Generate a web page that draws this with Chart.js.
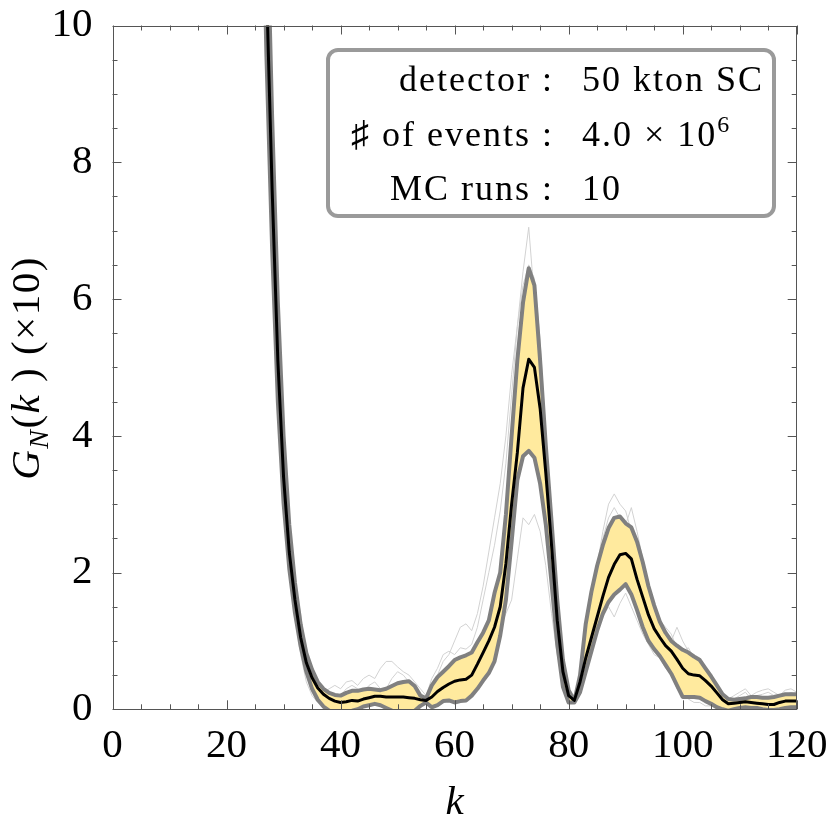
<!DOCTYPE html>
<html>
<head>
<meta charset="utf-8">
<script src="https://cdn.jsdelivr.net/npm/chart.js@4.4.0/dist/chart.umd.min.js"></script>
<style>
  html, body { margin: 0; padding: 0; background: #fff; }
  #wrap { position: relative; width: 830px; height: 824px; overflow: hidden; }
  #graph { position: absolute; left: 0; top: 0; }
  .ytitle {
    position: absolute; left: -125px; top: 345px; width: 300px; height: 46px;
    line-height: 46px; text-align: center; transform: rotate(-90deg);
    font-family: "Liberation Serif", serif; font-size: 41px; color: #000; white-space: nowrap;
    letter-spacing: 1.5px;
  }
  .ytitle .sub { font-size: 28px; position: relative; top: 9px; }
  .infobox {
    position: absolute; left: 326px; top: 48px; width: 450px; height: 170px;
    box-sizing: border-box; border: 4px solid #9a9a9a; border-radius: 12px; background: #fff;
    font-family: "Liberation Serif", serif; font-size: 36px; color: #000;
  }
  .infobox .row { position: absolute; left: 0; width: 100%; height: 54px; line-height: 54px; white-space: nowrap; }
  .infobox .lhs { position: absolute; right: 218px; letter-spacing: 2px; }
  .infobox .rhs { position: absolute; left: 252px; letter-spacing: 2px; }
  .infobox sup { font-size: 24px; position: relative; top: -14px; vertical-align: baseline; }
</style>
</head>
<body>
<div id="wrap">
  <canvas id="graph" width="830" height="824"></canvas>
  <div class="ytitle"><i>G</i><span class="sub"><i>N</i></span>(<i>k</i> ) (×10)</div>
  <div class="infobox">
    <div class="row" style="top:0px"><span class="lhs">detector :</span><span class="rhs">50 kton SC</span></div>
    <div class="row" style="top:55px"><span class="lhs">♯ of events :</span><span class="rhs">4.0 × 10<sup>6</sup></span></div>
    <div class="row" style="top:109px"><span class="lhs">MC runs :</span><span class="rhs">10</span></div>
  </div>
</div>
<script>
// k = 26 ... 120
const kValues = [
  26, 27, 28, 29, 30, 31, 32, 33, 34, 35,
  36, 37, 38, 39, 40, 41, 42, 43, 44, 45,
  46, 47, 48, 49, 50, 51, 52, 53, 54, 55,
  56, 57, 58, 59, 60, 61, 62, 63, 64, 65,
  66, 67, 68, 69, 70, 71, 72, 73, 74, 75,
  76, 77, 78, 79, 80, 81, 82, 83, 84, 85,
  86, 87, 88, 89, 90, 91, 92, 93, 94, 95,
  96, 97, 98, 99, 100, 101, 102, 103, 104, 105,
  106, 107, 108, 109, 110, 111, 112, 113, 114, 115,
  116, 117, 118, 119, 120
];

// average over the MC runs
const meanG = [
  14.5, 10.6, 7.6, 5.1, 3.4, 2.3, 1.6, 1.05, 0.68, 0.46,
  0.31, 0.22, 0.16, 0.12, 0.1, 0.11, 0.13, 0.12, 0.15, 0.17,
  0.19, 0.19, 0.18, 0.18, 0.18, 0.18, 0.17, 0.16, 0.14, 0.13,
  0.18, 0.26, 0.32, 0.37, 0.41, 0.43, 0.44, 0.5, 0.66, 0.83,
  1.0, 1.2, 1.5, 2.13, 3.0, 3.75, 4.7, 5.12, 5.0, 4.4,
  3.45, 2.4, 1.3, 0.55, 0.2, 0.13, 0.4, 0.75, 1.05, 1.35,
  1.65, 1.93, 2.12, 2.26, 2.28, 2.2, 1.9, 1.64, 1.38, 1.18,
  1.05, 0.93, 0.85, 0.73, 0.6, 0.52, 0.5, 0.49, 0.42, 0.34,
  0.24, 0.14, 0.08, 0.09, 0.1, 0.11, 0.1, 0.09, 0.08, 0.07,
  0.07, 0.1, 0.12, 0.12, 0.12
];

// mean + 1 sigma
const upperG = [
  16.0, 12.0, 8.65, 5.95, 4.0, 2.7, 1.85, 1.24, 0.82, 0.58,
  0.4, 0.3, 0.24, 0.21, 0.2, 0.24, 0.27, 0.27, 0.29, 0.3,
  0.29, 0.28, 0.3, 0.34, 0.38, 0.4, 0.41, 0.34, 0.2, 0.16,
  0.35, 0.47, 0.55, 0.63, 0.72, 0.76, 0.79, 0.83, 0.98, 1.12,
  1.3, 1.7, 2.0, 2.85, 4.0, 5.1, 5.95, 6.45, 6.2, 5.1,
  3.85, 2.75, 1.6, 0.72, 0.28, 0.12, 0.5, 1.25, 1.72, 2.1,
  2.4, 2.65, 2.8, 2.82, 2.72, 2.66, 2.45, 2.15, 1.8, 1.52,
  1.28, 1.12, 1.0, 0.93, 0.87, 0.83, 0.77, 0.72, 0.6, 0.48,
  0.35, 0.22, 0.15, 0.14, 0.15, 0.16, 0.18, 0.18, 0.17, 0.17,
  0.18, 0.2, 0.22, 0.22, 0.22
];

// mean - 1 sigma
const lowerG = [
  13.3, 9.55, 6.73, 4.5, 3.02, 2.06, 1.41, 0.92, 0.55, 0.3,
  0.14, 0.04, -0.02, -0.05, -0.06, -0.03, -0.02, 0.0, 0.04, 0.06,
  0.08, 0.06, 0.02, -0.02, -0.03, -0.04, -0.05, -0.02, 0.05, 0.1,
  0.03, 0.06, 0.12, 0.13, 0.1, 0.12, 0.13, 0.2, 0.3, 0.42,
  0.53, 0.7, 1.08, 1.6, 2.45, 3.35, 3.7, 3.78, 3.68, 3.3,
  2.7, 1.85, 0.95, 0.33, 0.1, 0.1, 0.25, 0.55, 0.85, 1.15,
  1.4, 1.57, 1.68, 1.75, 1.83, 1.68, 1.45, 1.2, 1.0, 0.88,
  0.78, 0.65, 0.52, 0.35, 0.18, 0.18, 0.18, 0.17, 0.12, 0.08,
  0.03, 0.0, -0.02, 0.0, 0.02, 0.03, 0.02, 0.02, 0.0, -0.01,
  -0.01, 0.0, 0.02, 0.03, 0.03
];

// a few of the single MC runs (thin grey)
const runA = [
  15, 10.9, 7.8, 5.2, 3.5, 2.3, 1.7, 1.3, 0.9, 0.5,
  0.3, 0.25, 0.3, 0.35, 0.3, 0.4, 0.42, 0.35, 0.45, 0.5,
  0.45, 0.6, 0.7, 0.7, 0.62, 0.55, 0.5, 0.4, 0.3, 0.2,
  0.45, 0.6, 0.8, 0.85, 0.8, 0.9, 0.88, 0.95, 1.2, 1.6,
  2.0, 2.4, 2.9, 3.6, 4.6, 5.6, 6.4, 7.05, 6.0, 4.9,
  3.9, 2.6, 1.6, 0.7, 0.3, 0.2, 0.5, 1.0, 1.6, 2.1,
  2.6, 3.0, 3.15, 3.0, 2.9, 2.6, 2.3, 2.0, 1.7, 1.4,
  1.3, 1.1, 1.0, 1.2, 1.0, 0.85, 0.8, 0.75, 0.6, 0.45,
  0.3, 0.2, 0.15, 0.2, 0.25, 0.3, 0.2, 0.25, 0.28, 0.3,
  0.25, 0.2, 0.28, 0.3, 0.25
];
const runB = [
  15, 10.5, 7.4, 4.8, 3.1, 2.0, 1.4, 0.8, 0.4, 0.2,
  0.1, 0.05, 0.1, 0.2, 0.15, 0.1, 0.2, 0.25, 0.15, 0.1,
  0.2, 0.25, 0.15, 0.1, 0.05, 0.1, 0.12, 0.05, 0.1, 0.15,
  0.1, 0.15, 0.2, 0.3, 0.25, 0.2, 0.3, 0.35, 0.4, 0.55,
  0.8, 1.0, 1.2, 1.4, 1.6, 2.2, 2.8, 2.7, 2.85, 2.6,
  2.1, 1.4, 0.8, 0.4, 0.15, 0.1, 0.3, 0.6, 0.9, 1.2,
  1.35, 1.5, 1.35, 1.55, 1.7, 1.5, 1.3, 1.1, 0.95, 0.8,
  0.75, 0.6, 0.5, 0.3, 0.2, 0.15, 0.1, 0.1, 0.05, 0.05,
  0.0, 0.05, 0.05, 0.1, 0.05, 0.08, 0.05, 0.1, 0.05, 0.08,
  0.05, 0.1, 0.05, 0.08, 0.1
];
const runC = [
  15, 10.7, 7.7, 5.1, 3.4, 2.3, 1.8, 1.4, 0.7, 0.35,
  0.2, 0.15, 0.2, 0.15, 0.2, 0.3, 0.35, 0.3, 0.25, 0.35,
  0.4, 0.3, 0.3, 0.45, 0.55, 0.5, 0.4, 0.3, 0.2, 0.15,
  0.3, 0.5, 0.7, 0.8, 1.0, 1.2, 1.25, 1.15, 1.4, 1.8,
  2.3, 2.8, 3.3, 4.0, 4.9, 5.6, 6.2, 6.5, 6.3, 5.4,
  4.0, 2.9, 1.6, 0.8, 0.25, 0.15, 0.4, 0.9, 1.5, 2.0,
  2.5, 2.8, 2.95, 2.8, 2.7, 2.95, 2.6, 2.2, 1.8, 1.5,
  1.3, 1.2, 1.1, 0.9, 0.85, 0.9, 0.75, 0.6, 0.5, 0.4,
  0.25, 0.15, 0.1, 0.15, 0.2, 0.25, 0.15, 0.2, 0.22, 0.25,
  0.2, 0.15, 0.2, 0.25, 0.2
];

const xMajorTicks = [0, 20, 40, 60, 80, 100, 120];
const yMajorTicks = [0, 2, 4, 6, 8, 10];

const toPoints = ys => kValues.map((k, i) => ({ x: k, y: ys[i] }));

// inward tick marks on all four sides + frame, like the original
const frameTicks = {
  id: 'frameTicks',
  afterDatasetsDraw(chart) {
    const { ctx, chartArea: a, scales: { x, y } } = chart;
    ctx.save();
    ctx.strokeStyle = '#555';
    ctx.lineWidth = 1;
    ctx.strokeRect(Math.round(a.left) + 0.5, Math.round(a.top) + 0.5,
      Math.round(a.right - a.left) - 1, Math.round(a.bottom - a.top) - 1);
    ctx.beginPath();
    for (let v = 0; v <= 120; v += 5) {
      const px = Math.round(x.getPixelForValue(v)) + 0.5;
      const len = xMajorTicks.includes(v) ? 9 : 5;
      ctx.moveTo(px, a.bottom); ctx.lineTo(px, a.bottom - len);
      ctx.moveTo(px, a.top); ctx.lineTo(px, a.top + len);
    }
    for (let v = 0; v <= 10; v += 0.5) {
      const py = Math.round(y.getPixelForValue(v)) + 0.5;
      const len = yMajorTicks.includes(v) ? 9 : 5;
      ctx.moveTo(a.left, py); ctx.lineTo(a.left + len, py);
      ctx.moveTo(a.right, py); ctx.lineTo(a.right - len, py);
    }
    ctx.stroke();
    ctx.restore();
  }
};

Chart.defaults.font.family = '"Liberation Serif", "Times New Roman", serif';
Chart.defaults.color = '#000';

const lineBase = { pointRadius: 0, tension: 0, clip: 0, borderJoinStyle: 'round', fill: false };

new Chart(document.getElementById('graph').getContext('2d'), {
  type: 'line',
  data: {
    datasets: [
      { ...lineBase, label: 'mean', data: toPoints(meanG), borderColor: '#000', borderWidth: 3, order: 0 },
      { ...lineBase, label: 'upper', data: toPoints(upperG), borderColor: '#808080', borderWidth: 4, order: 1 },
      { ...lineBase, label: 'lower', data: toPoints(lowerG), borderColor: '#808080', borderWidth: 4, order: 2,
        fill: { target: 1 }, backgroundColor: 'rgb(255, 234, 158)' },
      { ...lineBase, label: 'run A', data: toPoints(runA), borderColor: '#d2d2d2', borderWidth: 1, order: 3 },
      { ...lineBase, label: 'run B', data: toPoints(runB), borderColor: '#d2d2d2', borderWidth: 1, order: 3 },
      { ...lineBase, label: 'run C', data: toPoints(runC), borderColor: '#d2d2d2', borderWidth: 1, order: 3 }
    ]
  },
  options: {
    responsive: false,
    animation: false,
    devicePixelRatio: 1,
    layout: { padding: { top: 25.5, right: 33.3, bottom: 0, left: 0 } },
    plugins: { legend: { display: false }, tooltip: { enabled: false } },
    scales: {
      x: {
        type: 'linear', min: 0, max: 120,
        grid: { display: false }, border: { display: false },
        ticks: { stepSize: 20, padding: 4, font: { size: 41 }, maxRotation: 0 },
        title: { display: true, text: 'k', font: { size: 41, style: 'italic', lineHeight: 1 }, padding: { top: 0, bottom: 0 } },
        afterFit(scale) { scale.height = 114.7; scale.paddingLeft = 0; scale.paddingRight = 0; }
      },
      y: {
        min: 0, max: 10,
        grid: { display: false }, border: { display: false },
        ticks: { stepSize: 2, padding: 12, font: { size: 41 } },
        afterFit(scale) { scale.width = 112.5; scale.paddingTop = 0; scale.paddingBottom = 0; }
      }
    }
  },
  plugins: [frameTicks]
});
</script>
</body>
</html>
